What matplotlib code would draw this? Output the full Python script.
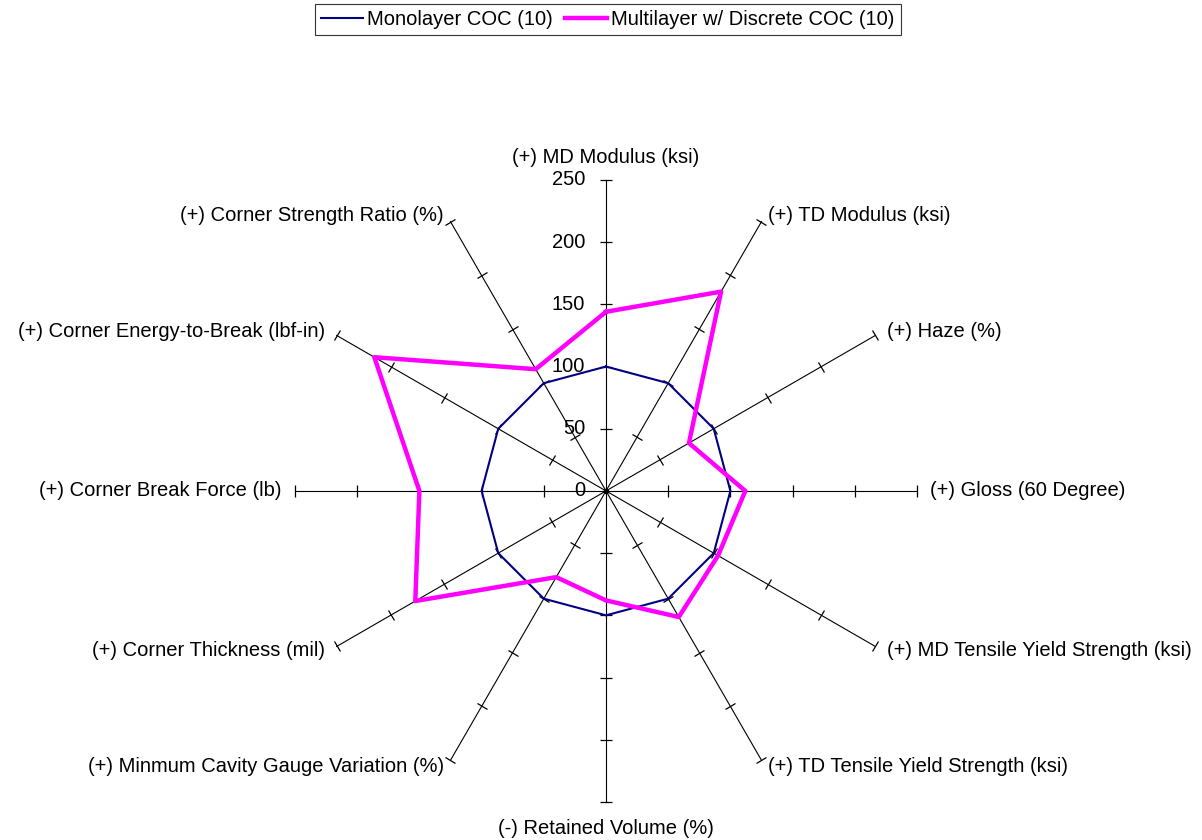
import numpy as np
import matplotlib.pyplot as plt
from matplotlib.markers import MarkerStyle
from matplotlib.transforms import Affine2D

plt.rcParams['font.family'] = ['Liberation Sans', 'DejaVu Sans']

# axis categories, clockwise from top
categories = ['(+) MD Modulus (ksi)', '(+) TD Modulus (ksi)', '(+) Haze (%)',
              '(+) Gloss (60 Degree)', '(+) MD Tensile Yield Strength (ksi)',
              '(+) TD Tensile Yield Strength (ksi)', '(-) Retained Volume (%)',
              '(+) Minmum Cavity Gauge Variation (%)', '(+) Corner Thickness (mil)',
              '(+) Corner Break Force (lb)', '(+) Corner Energy-to-Break (lbf-in)',
              '(+) Corner Strength Ratio (%)']
monolayer = [100, 100, 100, 100, 100, 100, 100, 100, 100, 100, 100, 100]
multilayer = [144, 185, 77, 112, 104, 117, 88, 80, 177, 150, 215, 113]
ticks = [0, 50, 100, 150, 200, 250]

FS = 14.5
n = len(categories)
theta = np.arange(n) * 2 * np.pi / n

fig = plt.figure(figsize=(12.02, 8.4), dpi=100)
ax = fig.add_axes([0.2454, 0.0453, 0.5175, 0.7405], projection='polar')
ax.set_theta_zero_location('N')
ax.set_theta_direction(-1)
ax.set_ylim(0, 250)
ax.grid(False)
ax.set_xticks([])
ax.set_yticks([])
ax.spines['polar'].set_visible(False)
ax.patch.set_visible(False)

# spokes and tick marks
for t in theta:
    ax.plot([t, t], [0, 250], color='black', lw=0.8, zorder=1, clip_on=False)
    # '|' marker is vertical; rotate so it crosses the spoke at right angles
    m = MarkerStyle('|', transform=Affine2D().rotate_deg(90 - np.degrees(t)))
    ax.plot([t] * 5, ticks[1:], linestyle='none', marker=m, clip_on=False,
            markersize=8, markeredgewidth=0.9, color='black', zorder=1)

ax.plot(0, 0, 'o', color='black', markersize=3, zorder=2)

# radial labels on the top spoke
for v in ticks:
    ax.annotate(str(v), xy=(0, v), xytext=(-15, 0), textcoords='offset points',
                ha='right', va='center', fontsize=FS)

# data
th = np.append(theta, theta[0])
l1, = ax.plot(th, monolayer + monolayer[:1], color='#000080', lw=1.5,
              label='Monolayer COC (10)', zorder=3, clip_on=False)
l2, = ax.plot(th, multilayer + multilayer[:1], color='#FF00FF', lw=3.2,
              label='Multilayer w/ Discrete COC (10)', zorder=4, clip_on=False)

# category labels
for t, lab in zip(theta, categories):
    s, c = np.sin(t), np.cos(t)
    if abs(s) < 0.01:
        ha = 'center'
        off = (0, 16 if c > 0 else -19)
    else:
        ha = 'left' if s > 0 else 'right'
        off = (9.4 * s, 5.3 * c)
    ax.annotate(lab, xy=(t, 250), xytext=off, textcoords='offset points',
                ha=ha, va='center', fontsize=FS, annotation_clip=False)

leg = fig.legend(handles=[l1, l2], loc='upper center', bbox_to_anchor=(0.5057, 0.995),
                 ncol=2, fontsize=FS, frameon=True, fancybox=False,
                 edgecolor='black', handlelength=2.1, handletextpad=0.2,
                 columnspacing=0.6, borderpad=0.3, borderaxespad=0)
leg.get_frame().set_linewidth(0.8)

fig.savefig('out.png', dpi=100)
